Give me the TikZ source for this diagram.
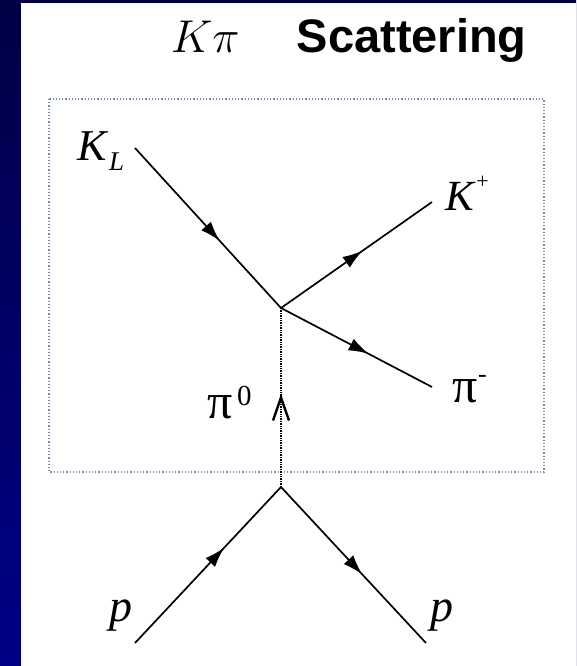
\documentclass[tikz,border=0pt]{standalone}
\usepackage{fix-cm}
\usepackage{fontspec}
\setmainfont{Liberation Serif}
\newfontfamily\titlefont{Liberation Sans}
\usetikzlibrary{arrows.meta,decorations.markings}
\definecolor{navytop}{RGB}{0,0,70}
\definecolor{navybot}{RGB}{0,0,135}
\definecolor{boxblue}{RGB}{120,140,180}
\tikzset{
  fermion/.style={postaction={decorate},decoration={markings,
    mark=at position #1 with {\arrow{Latex[length=20pt,width=13pt]}}}},
  exchange/.style={densely dotted,line width=1.4pt,postaction={decorate},decoration={markings,
    mark=at position .5 with {\draw[solid,line width=2.4pt] (-23pt,-8pt) -- (0,0) -- (-23pt,8pt);}}},
  lbl/.style={inner sep=0pt,font=\fontsize{44}{48}\selectfont}
}
\begin{document}
\begin{tikzpicture}[x=1pt,y=-1pt,line width=1.7pt]
\useasboundingbox (0,0) rectangle (576,666);
\shade[top color=navytop,bottom color=navybot] (0,0) rectangle (576,666);
\fill[white] (21,3) rectangle (576,666);
% title
\node[inner sep=0pt,anchor=base west,font=\fontsize{46}{50}\selectfont] (kpi) at (170,53) {$K\pi$};
\node[inner sep=0pt,anchor=base west,font=\titlefont\bfseries\fontsize{47}{50}\selectfont] (title) at (296,53) {Scattering};
\draw[boxblue,dotted,line width=1.2pt] (49,99) rectangle (544,472);
% vertices and legs
\coordinate (up) at (281,308);
\coordinate (low) at (281,487);
\coordinate (kin) at (135,148);
\coordinate (kout) at (432,202);
\coordinate (piout) at (432,387);
\coordinate (pin) at (135,643);
\coordinate (pout) at (426,643);
\draw[fermion=.58] (kin) -- (up);
\draw[fermion=.54] (up) -- (kout);
\draw[fermion=.58] (up) -- (piout);
\draw[exchange] (low) -- (up);
\draw[fermion=.61] (pin) -- (low);
\draw[fermion=.56] (low) -- (pout);
% labels
\node[lbl,anchor=base west] (KL) at (77,160) {\textit{K}\raisebox{-10pt}{\fontsize{27}{28}\selectfont\textit{L}}};
\node[lbl,anchor=base west,font=\fontsize{43}{46}\selectfont] (Kp) at (445,210) {\textit{K}\raisebox{22pt}{\fontsize{22}{24}\selectfont+}};
\node[lbl,anchor=base west,font=\fontsize{50}{52}\selectfont] (pim) at (452,402) {π\raisebox{20pt}{\fontsize{26}{28}\selectfont -}};
\node[lbl,anchor=base west,font=\fontsize{50}{52}\selectfont] (pi0) at (207,418) {π\hspace{4pt}\raisebox{13pt}{\fontsize{29}{30}\selectfont 0}};
\node[lbl,anchor=base west,font=\fontsize{46}{48}\selectfont] (p1) at (109,621) {\textit{p}};
\node[lbl,anchor=base west,font=\fontsize{46}{48}\selectfont] (p2) at (430,621) {\textit{p}};
\end{tikzpicture}
\end{document}
